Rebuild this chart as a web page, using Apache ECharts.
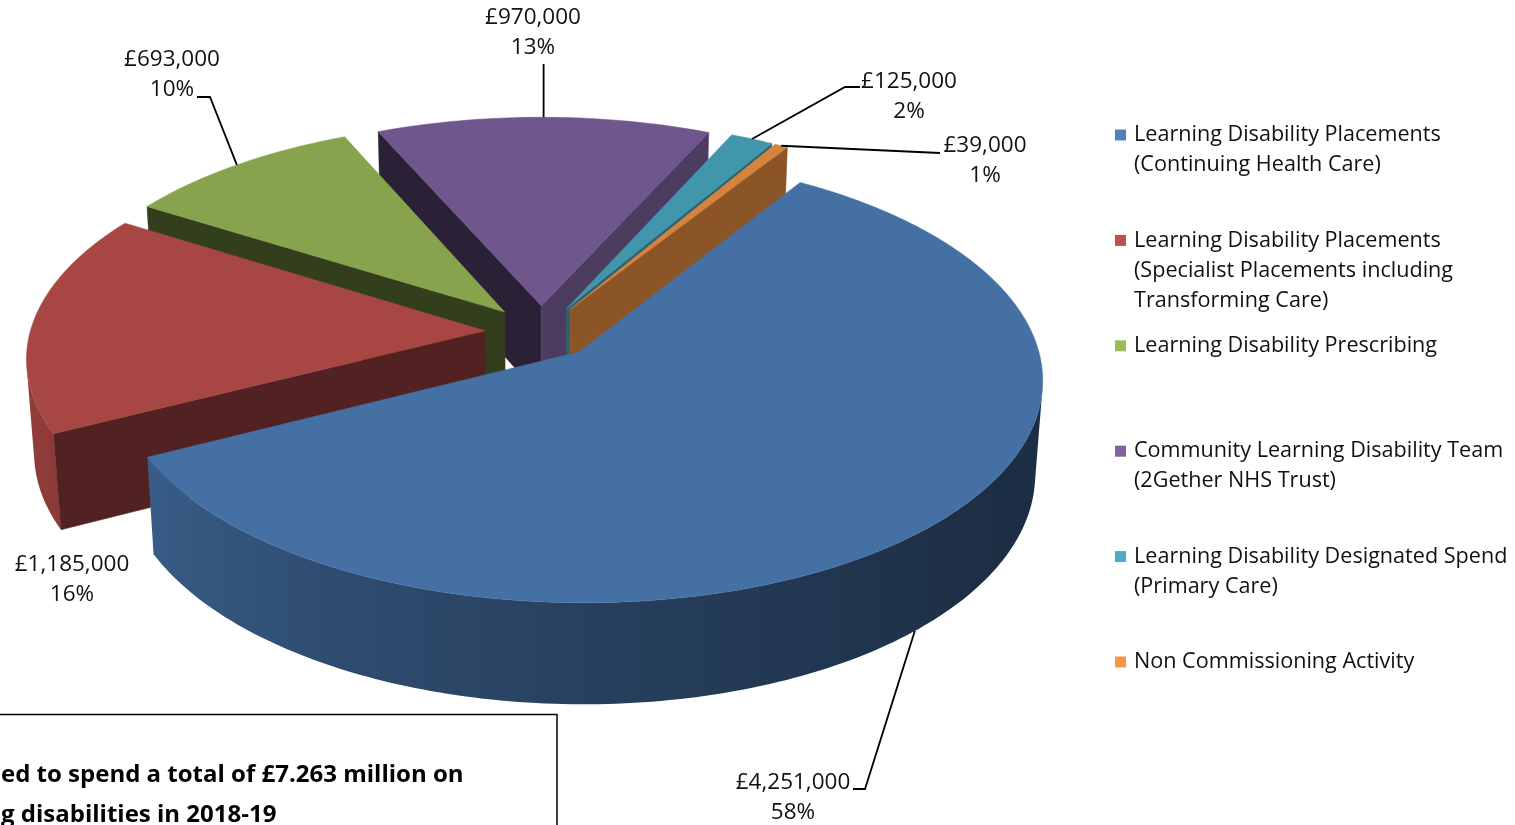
<!DOCTYPE html>
<html>
<head>
<meta charset="utf-8">
<script src="https://cdn.jsdelivr.net/npm/echarts@6/dist/echarts.min.js"></script>
<style>
html,body{margin:0;padding:0;background:#fff;}
#chart{width:1515px;height:825px;}
</style>
</head>
<body>
<div id="chart"></div>
<script>
// ---------------- data ----------------
const categories = [
  'Learning Disability Placements\n(Continuing Health Care)',
  'Learning Disability Placements\n(Specialist Placements including\nTransforming Care)',
  'Learning Disability Prescribing',
  'Community Learning Disability Team\n(2Gether NHS Trust)',
  'Learning Disability Designated Spend\n(Primary Care)',
  'Non Commissioning Activity'
];
const values = [4251000, 1185000, 693000, 970000, 125000, 39000];
const noteLines = [
  'ed to spend a total of \u00a37.263 million on',
  'g disabilities in 2018-19'
];

// ---------------- style / layout ----------------
const baseColors = ['#4F81BD', '#C0504D', '#9BBB59', '#8064A2', '#4BACC6', '#F79646'];
const FONT = '"Open Sans", "Noto Sans", sans-serif';
const VIEW = { cx: 541, cy: 332, S: 455, tilt: 28.4, dist: 7.5, height: 0.235, explode: 0.123, startAngle: -57.5 };
const LEGEND = { x: 1115, top: 135, step: 105.4, lineHeight: 30, fontSize: 21.6 };
const LABEL_FONT = 22.5;
// label centre (first line) and leader route (pixels; null x = straight up from anchor)
const labelLayout = [
  { x: 793, y: 783, route: [[865, 789], [853, 789]], anchor: 'bottom' },
  { x: 72,  y: 565, route: null },
  { x: 172, y: 60,  route: [[210, 97], [197, 97]], anchor: 'top' },
  { x: 533, y: 18,  route: [[null, 64]], anchor: 'top' },
  { x: 909, y: 82,  route: [[845, 87], [860, 87]], anchor: 'top' },
  { x: 985, y: 146, route: [[940, 153]], anchor: 'top' }
];

// ---------------- helpers ----------------
const total = values.reduce((a, b) => a + b, 0);
function percents(vals) {
  // largest remainder rounding to whole percent
  const raw = vals.map(v => v / total * 100);
  const fl = raw.map(Math.floor);
  const rest = 100 - fl.reduce((a, b) => a + b, 0);
  const order = raw.map((r, i) => [r - Math.floor(r), i]).sort((a, b) => b[0] - a[0]);
  for (let k = 0; k < rest; k++) fl[order[k][1]] += 1;
  return fl;
}
const pct = percents(values);

function hexToRgb(h) { const n = parseInt(h.slice(1), 16); return [(n >> 16) & 255, (n >> 8) & 255, n & 255]; }
function shade(hex, f) {
  const c = hexToRgb(hex).map(x => Math.max(0, Math.min(255, Math.round(x * f))));
  return 'rgb(' + c.join(',') + ')';
}
const rad = d => d * Math.PI / 180;
const sinP = Math.sin(rad(VIEW.tilt)), cosP = Math.cos(rad(VIEW.tilt));
function proj(u, v, z) {
  const dc = VIEW.dist - v * cosP - z * sinP;
  const k = VIEW.dist / dc;
  return [VIEW.cx + VIEW.S * u * k, VIEW.cy + VIEW.S * (v * sinP - z * cosP) * k];
}
function area(pts) {
  let a = 0;
  for (let i = 0; i < pts.length; i++) {
    const p = pts[i], q = pts[(i + 1) % pts.length];
    a += p[0] * q[1] - q[0] * p[1];
  }
  return a / 2;
}
function wallShade(thDeg) {
  let t = ((thDeg % 360) + 360) % 360;
  if (t > 180) t = t > 270 ? 0 : 180;
  const x = Math.max(0, Math.min(1, (t - 30) / 130));
  return 0.41 + 0.45 * Math.pow(x, 1.3);
}
function cutShade(normalDeg) {
  const c = Math.max(0, Math.cos(rad(normalDeg)));
  return 0.38 + 0.35 * Math.pow(c, 1.5);
}

// slice angles from values
const slices = [];
(function () {
  let a = VIEW.startAngle;
  values.forEach(v => {
    const span = v / total * 360;
    slices.push({ s: a, e: a + span, m: a + span / 2 });
    a += span;
  });
})();
const rankOrder = slices.map((s, i) => [Math.sin(rad(s.m)), i]).sort((a, b) => a[0] - b[0]);
const rank = [];
rankOrder.forEach((r, k) => { rank[r[1]] = k; });

function renderItem(params, api) {
  const i = params.dataIndex;
  const sl = slices[i];
  const H = VIEW.height;
  const ex = VIEW.explode * Math.cos(rad(sl.m)), ey = VIEW.explode * Math.sin(rad(sl.m));
  const top = baseColors[i];
  const topShade = 0.87;
  const n = Math.max(2, Math.ceil((sl.e - sl.s) / 1));
  const arc = [];
  for (let j = 0; j <= n; j++) {
    const th = sl.s + (sl.e - sl.s) * j / n;
    arc.push({ th, u: ex + Math.cos(rad(th)), v: ey + Math.sin(rad(th)) });
  }
  const children = [];
  const zb = rank[i] * 10;
  // outer wall: collect visible runs, each drawn as one polygon with horizontal gradient
  let run = [];
  const runs = [];
  for (let j = 0; j < n; j++) {
    const a = arc[j], b = arc[j + 1];
    const quad = [proj(a.u, a.v, 0), proj(b.u, b.v, 0), proj(b.u, b.v, -H), proj(a.u, a.v, -H)];
    if (area(quad) < 0) {
      if (!run.length) run.push(a);
      run.push(b);
    } else if (run.length) { runs.push(run); run = []; }
  }
  if (run.length) runs.push(run);
  runs.forEach(r => {
    const tops = r.map(p => proj(p.u, p.v, 0));
    const bots = r.map(p => proj(p.u, p.v, -H));
    const pts = tops.concat(bots.slice().reverse());
    const xs = tops.map(p => p[0]);
    const x0 = Math.min.apply(null, xs), x1 = Math.max.apply(null, xs);
    const stops = r.map((p, k) => ({
      offset: Math.max(0, Math.min(1, (tops[k][0] - x0) / Math.max(1, x1 - x0))),
      color: shade(top, topShade * wallShade(p.th))
    })).sort((a, b) => a.offset - b.offset);
    const grad = new echarts.graphic.LinearGradient(0, 0, 1, 0, stops);
    children.push({ type: 'polygon', z2: zb, shape: { points: pts }, style: { fill: grad } });
  });
  // cut faces
  const a0 = arc[0], a1 = arc[n];
  const startFace = [proj(ex, ey, 0), proj(a0.u, a0.v, 0), proj(a0.u, a0.v, -H), proj(ex, ey, -H)];
  if (area(startFace) < 0) {
    const c = shade(top, topShade * cutShade(sl.s - 90));
    children.push({ type: 'polygon', z2: zb + 1, shape: { points: startFace }, style: { fill: c, stroke: c, lineWidth: 0.5 } });
  }
  const endFace = [proj(ex, ey, 0), proj(ex, ey, -H), proj(a1.u, a1.v, -H), proj(a1.u, a1.v, 0)];
  if (area(endFace) < 0) {
    const c = shade(top, topShade * cutShade(sl.e + 90));
    children.push({ type: 'polygon', z2: zb + 1, shape: { points: endFace }, style: { fill: c, stroke: c, lineWidth: 0.5 } });
  }
  // top face
  const topPts = [proj(ex, ey, 0)].concat(arc.map(p => proj(p.u, p.v, 0)));
  const tc = shade(top, topShade);
  children.push({ type: 'polygon', z2: zb + 5, shape: { points: topPts }, style: { fill: tc, stroke: tc, lineWidth: 0.5 } });

  // label + leader
  const L = labelLayout[i];
  const val = api.value(0);
  const text = '\u00a3' + val.toLocaleString('en-GB') + '\n' + pct[i] + '%';
  children.push({
    type: 'text', z2: 200,
    style: { text, x: L.x, y: L.y - 15, font: LABEL_FONT + 'px ' + FONT, fill: '#111', align: 'center', verticalAlign: 'top', lineHeight: 30 }
  });
  if (L.route) {
    const mu = ex + Math.cos(rad(sl.m)), mv = ey + Math.sin(rad(sl.m));
    const anc = proj(mu, mv, L.anchor === 'bottom' ? -H : 0);
    const route = L.route.map(p => [p[0] == null ? anc[0] : p[0], p[1]]);
    children.push({
      type: 'polyline', z2: 190,
      shape: { points: [anc].concat(route) },
      style: { stroke: '#000', lineWidth: 1.8, fill: null }
    });
  }
  return { type: 'group', children };
}

// legend + note box graphics
const graphics = [];
categories.forEach((name, i) => {
  const yc = LEGEND.top + i * LEGEND.step;
  graphics.push({ type: 'rect', shape: { x: LEGEND.x, y: yc - 5.5, width: 11, height: 11 }, style: { fill: baseColors[i] } });
  graphics.push({ type: 'text', style: { text: name, x: LEGEND.x + 19, y: yc - LEGEND.lineHeight / 2, font: LEGEND.fontSize + 'px ' + FONT, fill: '#111', verticalAlign: 'top', lineHeight: LEGEND.lineHeight } });
});
graphics.push({ type: 'rect', shape: { x: -5, y: 714.5, width: 562, height: 200 }, style: { fill: null, stroke: '#000', lineWidth: 1.5 } });
noteLines.forEach((t, k) => {
  graphics.push({ type: 'text', style: { text: t, x: 1, y: 775 + k * 40, font: 'bold 24px ' + FONT, fill: '#000', verticalAlign: 'middle' } });
});

const chart = echarts.init(document.getElementById('chart'), null, { renderer: 'canvas' });
chart.setOption({
  animation: false,
  backgroundColor: '#fff',
  series: [{
    type: 'custom',
    coordinateSystem: 'none',
    silent: true,
    data: values.map(v => [v]),
    renderItem
  }],
  graphic: graphics
});
</script>
</body>
</html>
